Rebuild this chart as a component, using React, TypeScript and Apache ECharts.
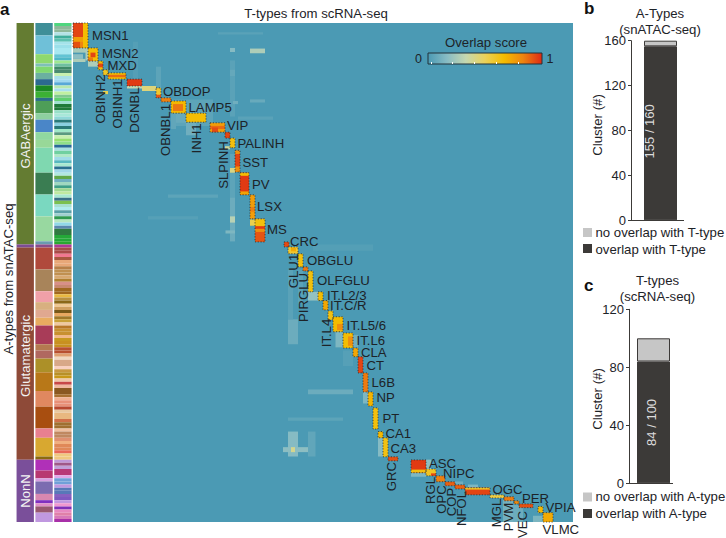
import React, { useEffect, useRef } from "react";
import * as echarts from "echarts";

const TEAL = "#4b9ab4";
const FONT = '"Liberation Sans", Arial, sans-serif';
const INK = "#1d2328";
const DARK = "#3c3a38";
const LIGHT = "#c6c6c6";

// Overlap score as [col0, col1, row0, row1, score]; later entries lie on top of earlier ones.
const faintOverlap = [
  [31.4, 32.4, 12, 30, 0.04], [16.6, 17.6, 14, 21, 0.05], [12, 13, 6, 18, 0.025], [35.4, 38.4, 8.2, 9.7, 0.27],
  [31.4, 32.4, 8, 9.3, 0.16], [31.4, 32.4, 15, 17, 0.07], [29, 38, 3, 3.7, 0.04], [32, 33, 25, 26, 0.1],
  [19.6, 28, 24.5, 33, 0.05], [22.6, 24.6, 32, 36, 0.1], [20.6, 22.6, 29, 32, 0.08], [19.6, 20.6, 29, 34, 0.06],
  [35.4, 38.4, 24.5, 25.5, 0.08], [33, 40, 30, 31, 0.04], [19, 29, 55, 56, 0.05], [31.4, 32.4, 42, 70, 0.05],
  [31.4, 32.4, 56, 70, 0.09], [31.4, 32.4, 62, 64, 0.3], [30.5, 32.4, 66.5, 67.5, 0.14], [15, 25, 62, 63, 0.03],
  [43, 45, 95, 103, 0.09], [43, 45, 131, 139, 0.16], [42, 48, 136, 137.6, 0.18], [43.6, 44.4, 136, 137.6, 0.4],
  [47, 56, 117.5, 119, 0.09], [43, 54, 126.5, 127.5, 0.05], [47, 49, 86.2, 89, 0.2], [47, 48.5, 131, 139, 0.06],
  [52.5, 54, 99, 104, 0.14], [56, 57, 100, 104, 0.1], [58, 59, 118, 122, 0.14], [61, 62, 133, 139, 0.16],
  [43, 44, 79, 95, 0.04], [45, 46, 79, 90, 0.04], [48, 60, 71, 73, 0.025], [54, 56, 105, 110, 0.03],
  [70.6, 71.6, 140, 143, 0.18], [67.6, 70.6, 144.2, 145.5, 0.14], [76, 78, 147, 148, 0.1], [79, 81, 148, 149, 0.14],
  [86, 88, 153, 160, 0.11], [88, 90, 154.5, 160, 0.09], [92, 94, 158, 160, 0.13], [0, 3, 8, 9.5, 0.25],
  [0, 2, 10, 11.5, 0.18], [0, 2.5, 11.5, 12.5, 0.27], [3, 5, 12.2, 14, 0.27], [2.5, 3, 6, 12, 0.27],
];

const blockOverlap = [
  [0, 3, 0, 8, 0.66], [0, 2, 0, 4.5, 0.95], [0, 2, 4.5, 6, 0.76], [0, 1.4, 6, 8, 0.93], [1.4, 2, 6, 8, 0.83],
  [3, 5, 8, 12.2, 0.66], [3.5, 4.5, 9.5, 11, 0.95], [3, 4, 11, 12.2, 0.85],
  [5, 6, 12.2, 15, 0.66], [5, 6, 13, 14.2, 0.95], [6, 7, 15, 16.7, 0.6], [6, 7, 21.8, 22.8, 0.52],
  [7, 10.6, 16, 18, 0.66], [7, 10.6, 16.6, 17.4, 0.88],
  [10.8, 13.8, 18, 20.2, 0.97], [10.8, 13.8, 20.2, 21, 0.33],
  [13.8, 16.6, 20.2, 21.8, 0.44], [16.6, 17.6, 20.8, 23.2, 0.58], [16.6, 17.6, 23, 24, 0.92],
  [17.6, 19.6, 24, 25.3, 0.84], [19.6, 22.6, 25, 28.9, 0.68], [20, 22, 26, 28.2, 0.86],
  [22.6, 26.6, 28.9, 31.8, 0.66], [27.4, 30.4, 32, 35, 0.76], [27.4, 30.4, 33, 34, 0.88], [27.8, 29, 33.5, 35, 0.94],
  [30.4, 31.4, 35, 36.9, 0.95], [31.4, 32.4, 36.9, 40, 0.64], [30.4, 31.4, 39.5, 40.5, 0.38],
  [32.4, 33.4, 40.8, 47.8, 0.8], [32.4, 33.4, 42, 46, 0.95], [31.4, 32.4, 46.5, 48, 0.42],
  [33.4, 35.2, 48, 55.1, 0.97], [33.4, 35.2, 48, 49, 0.66], [33.4, 35.2, 54, 55.1, 0.74],
  [35.4, 36.4, 55.1, 62.8, 0.76], [35.4, 36.4, 59, 60.5, 0.84], [35.4, 36.4, 63, 65, 0.52],
  [36.4, 38.4, 62.8, 70.2, 0.92], [36.4, 38.4, 62.8, 65.2, 0.64], [36.4, 38.4, 65.2, 66, 0.97], [36.4, 38.4, 66, 67, 0.8],
  [42.2, 43.2, 70.2, 71.8, 0.94], [43, 45, 71.8, 74, 0.58], [43.6, 44.6, 72, 73.2, 0.72],
  [45, 46, 74, 78.2, 0.64], [46, 47, 78.2, 79.5, 0.86], [47, 48, 79.5, 86.2, 0.64],
  [49, 50, 86.2, 89, 0.66], [50, 51, 89, 92, 0.73], [51, 52, 92.3, 95.2, 0.63],
  [52, 54, 94.2, 99, 0.67], [52.8, 54, 96.5, 98.5, 0.8], [54, 56, 99.4, 104.2, 0.66], [55, 56, 100.5, 103.5, 0.8],
  [56, 57, 104.2, 107, 0.73], [57, 58, 107, 112.2, 0.95], [58, 59, 112.2, 118.3, 0.85], [59, 60, 118.3, 122.8, 0.69],
  [60, 61, 123.4, 130.2, 0.64], [61, 62, 131, 133, 0.68], [62, 63, 133, 139.1, 0.63], [63, 65, 139.1, 140.4, 0.93],
  [67.6, 70.6, 140.1, 144.2, 0.97], [67.6, 70.6, 143.2, 144.2, 0.64], [70.6, 72.6, 143, 145.2, 0.6],
  [71.6, 72.6, 144.4, 145.2, 0.95], [72.6, 74.4, 145.2, 147.1, 0.84], [74.4, 76.4, 147.1, 148.4, 0.9],
  [76.4, 78.4, 148.1, 149.4, 0.9], [78.4, 83.4, 149, 151.3, 0.95], [78.4, 83.4, 149, 149.6, 0.6],
  [83.4, 86.2, 151.3, 152.3, 0.54], [86.2, 88.2, 151.9, 153.2, 0.85], [88.2, 89.2, 153.2, 154.2, 0.82],
  [89.2, 92, 154.2, 155.4, 0.93], [93, 94, 155, 157, 0.68], [94, 96, 157, 160, 0.72],
];

// Dotted frames of the T-type blocks: [col0, col1, row0, row1].
const tTypeFrames = [
  [0, 3, 0, 8], [3, 5, 8, 12.2], [5, 6, 12.2, 15], [6, 7, 15, 16.7], [7, 10.6, 16, 18], [10.8, 13.8, 18, 20.2],
  [16.6, 17.6, 20.8, 24], [17.6, 19.6, 24, 25.3], [19.6, 22.6, 25, 28.9], [22.6, 26.6, 28.9, 31.8], [27.4, 30.4, 32, 35],
  [30.4, 31.4, 35, 36.9], [31.4, 32.4, 36.9, 40], [32.4, 33.4, 40.8, 47.8], [33.4, 35.2, 48, 55.1], [35.4, 36.4, 55.1, 62.8],
  [36.4, 38.4, 62.8, 70.2], [42.2, 43.2, 70.2, 71.8], [43, 45, 71.8, 74], [45, 46, 74, 78.2], [46, 47, 78.2, 79.5],
  [47, 48, 79.5, 86.2], [49, 50, 86.2, 89], [50, 51, 89, 92], [51, 52, 92.3, 95.2], [52, 54, 94.2, 99], [54, 56, 99.4, 104.2],
  [56, 57, 104.2, 107], [57, 58, 107, 112.2], [58, 59, 112.2, 118.3], [59, 60, 118.3, 122.8], [60, 61, 123.4, 130.2],
  [61, 62, 131, 133], [62, 63, 133, 139.1], [63, 65, 139.1, 140.4], [67.6, 70.6, 140.1, 144.2], [70.6, 72.6, 143, 145.2],
  [72.6, 74.4, 145.2, 147.1], [74.4, 76.4, 147.1, 148.4], [76.4, 78.4, 148.1, 149.4], [78.4, 83.4, 149, 151.3],
  [83.4, 86.2, 151.3, 152.3], [86.2, 88.2, 151.9, 153.2], [88.2, 89.2, 153.2, 154.2], [89.2, 92, 154.2, 155.4],
  [93, 94, 155, 157], [94, 96, 157, 160],
];

const overlapColors = ["#4b9ab4", "#88bcc4", "#c5d8b0", "#ead25a", "#f4bc00", "#ee8410", "#de2a14"];

// Left-hand annotation strips: [color, row0, row1].
const classStrip = [["#647c32", 0, 71], ["#7d4c94", 71, 72], ["#8e4a38", 72, 140], ["#7a4f9a", 140, 160]];
const subclassStrip = [
  ["#3f8f98", 0, 4], ["#6fc0d8", 4, 10], ["#8fd96e", 10, 13], ["#7fc0b8", 13, 14], ["#80d870", 14, 16], ["#6bb0a0", 16, 18],
  ["#2c6a90", 18, 20], ["#1c8a24", 20, 22], ["#3cb034", 22, 24], ["#2b6e88", 24, 25], ["#4e9e58", 25, 29], ["#8ed0a0", 29, 31],
  ["#4a86c8", 31, 35], ["#90d8a0", 35, 37.5], ["#98d898", 37.5, 40], ["#7fd8b0", 40, 48], ["#3a7d52", 48, 55], ["#7ad8c0", 55, 62],
  ["#98d8a0", 62, 70], ["#6a9ab0", 70, 71], ["#8a4c8c", 71, 72], ["#b04a3c", 72, 79], ["#a8845a", 79, 86], ["#f0a0a8", 86, 89.5],
  ["#d8b080", 89.5, 92], ["#e0a890", 92, 94.5], ["#e8ac60", 94.5, 97], ["#a83c58", 97, 103], ["#b47a50", 103, 105], ["#b06860", 105, 107.6],
  ["#ac9028", 107.6, 112], ["#b87818", 112, 118], ["#e08860", 118, 123], ["#a84e10", 123, 130], ["#e88090", 130, 133], ["#d8a830", 133, 139],
  ["#8a6a10", 139, 140], ["#b030b8", 140, 143.5], ["#b83870", 143.5, 146], ["#d8a0e0", 146, 147], ["#7c6cb0", 147, 151], ["#d888b0", 151, 153],
  ["#8030c0", 153, 154], ["#e090c8", 154, 155], ["#985870", 155, 157], ["#c098e0", 157, 160],
];
const clusterStrip = (
  "4fd67f 8fb89a 8fb89a b3e2e6 3fae9c 5cc0b0 a5e3ea 9be0ea a8e8f0 a8e8f0 " +
  "62c4d4 4fb8c8 a0e890 6fc0a0 3f8a68 4a8a70 c8f0b0 a8e0e8 a0d8f0 58a8d8 " +
  "b8e8b0 a8e0f0 c0f0a0 80c890 60d070 a0e0d0 1f7a3a 1f7a3a 98e0c8 a8e8d8 " +
  "90d8d8 2a7a7a 8ad0e0 2a7a78 a0e8c8 5a9a80 c8f0b0 98e070 90e088 2a6a98 " +
  "a8e0e0 70d0a0 b0e8c8 a0dce8 58b8c0 a8e8d0 2a7090 a0d8e8 b0e8e0 60a848 " +
  "70b0c0 a0d8c0 40a088 a0d890 c0e8a0 a8e8d0 3a7088 7cc050 a8e0d0 b0ecf0 " +
  "5aa0a8 a0d0d0 2f9a50 b8e8c0 90d8e8 5a88b0 2f7a40 2f7a40 24a838 24a838 " +
  "2aa830 b03898 a84a48 a84a48 f07890 a85840 e8a878 e8a878 b88048 c09050 " +
  "c09050 d8a870 b08030 d89088 c88870 a06820 a06820 e8b840 b89040 8a6818 " +
  "f0c890 d0a060 785818 e8a860 a07828 c8a038 f0c8a0 b87828 c89030 c89030 " +
  "f0b888 c89820 c89020 c89020 b85030 b85030 e0a070 f0d8c0 d8a888 d8a888 " +
  "f8d0c0 c89840 b89028 c89818 f0c8a8 c84848 f0b8a0 8a5820 8a5820 a87030 " +
  "f0b090 e89078 e89078 b84830 e8c8a0 e8b880 e8b880 d07048 a07030 a07030 " +
  "f0c0a0 c08860 c08860 e09070 f0b080 e08858 e08858 e86858 f0c880 f0c880 " +
  "c098d8 a05888 c0a0d8 b83878 b83878 e0a8e8 70a0d8 70a0d8 c098e0 5878b8 " +
  "5878b8 8860c0 8058c0 c098e0 f098d0 8030b8 e888c0 e080a8 d878b8 a830a8"
).split(" ").map((h) => "#" + h);

// Panels b and c.
const aTypeOverlap = [155];
const aTypeNoOverlap = [5];
const aTypeTicks = [0, 40, 80, 120, 160];
const tTypeOverlap = [84];
const tTypeNoOverlap = [16];
const tTypeTicks = [0, 40, 80, 120];

const horizontalTypeLabels = [
  ["MSN1", 92, 35], ["MSN2", 102, 53.5], ["MXD", 107.5, 65], ["OBDOP", 163, 91], ["LAMP5", 188.5, 107], ["VIP", 227, 125.5],
  ["PALINH", 237.5, 143], ["SST", 242.5, 162], ["PV", 252, 184], ["LSX", 257, 206.5], ["MS", 267, 229], ["CRC", 290, 241.5],
  ["OBGLU", 307, 260], ["OLFGLU", 317, 280.5], ["IT.L2/3", 327, 295], ["IT.C/R", 330, 305.5], ["IT.L5/6", 346.5, 325],
  ["IT.L6", 356.5, 340], ["CLA", 361, 352], ["CT", 366.5, 365], ["L6B", 371.5, 382.5], ["NP", 376.5, 397.5], ["PT", 382.5, 418.5],
  ["CA1", 385.5, 433.5], ["CA3", 390.5, 448.5], ["ASC", 429, 463], ["NIPC", 443, 473.5], ["OGC", 492.5, 489], ["PER", 522, 498],
  ["VPIA", 545.5, 507.5], ["VLMC", 542.5, 529.5],
];
const verticalTypeLabels = [
  ["OBINH2", 100.5, 99], ["OBINH1", 117.5, 104], ["DGNBL", 134.5, 110], ["OBNBL1", 165, 130], ["INH1", 196.5, 138.5],
  ["SLPINH", 223, 165], ["GLU1", 293, 271], ["PIRGLU", 303, 297.5], ["IT.L4", 326, 333], ["GRC", 391.5, 476.5], ["RGL", 430, 490.5],
  ["OPC", 441, 499.5], ["COP", 451, 502], ["NFOL", 461, 508.5], ["MGL", 496, 513], ["PVM", 508, 517], ["VEC", 522, 524.5],
];

function hText(text: string, x: number, y: number, extra: any = {}) {
  return {
    type: "text", x, y, z: 100, silent: true,
    style: { text, fill: INK, font: `13.2px ${FONT}`, align: "left", verticalAlign: "middle", ...extra },
  };
}
function vText(text: string, x: number, y: number, extra: any = {}) {
  return {
    type: "text", x, y, z: 100, silent: true, rotation: Math.PI / 2,
    style: { text, fill: INK, font: `13.2px ${FONT}`, align: "center", verticalAlign: "middle", ...extra },
  };
}
function square(x: number, y: number, fill: string) {
  return { type: "rect", z: 100, silent: true, shape: { x, y, width: 9, height: 9 }, style: { fill } };
}
function baseline(x1: number, x2: number, y: number) {
  return { type: "line", z: 100, silent: true, shape: { x1, y1: y, x2, y2: y }, style: { stroke: DARK, lineWidth: 1 } };
}

function patchItem(_p: any, api: any) {
  const a = api.coord([api.value(0), api.value(2)]);
  const b = api.coord([api.value(1), api.value(3)]);
  return {
    type: "rect",
    shape: { x: a[0], y: a[1], width: b[0] - a[0], height: b[1] - a[1] },
    style: { fill: api.visual("color") },
  };
}
function frameItem(_p: any, api: any) {
  const a = api.coord([api.value(0), api.value(2)]);
  const b = api.coord([api.value(1), api.value(3)]);
  return {
    type: "rect",
    shape: { x: a[0], y: a[1], width: b[0] - a[0], height: b[1] - a[1] },
    style: { fill: "none", stroke: "#2a3034", lineWidth: 0.8, lineDash: [1.2, 1.6] },
  };
}

const stripRows = [
  ...classStrip.map((s) => ({ col: 0, color: s[0] as string, r0: s[1] as number, r1: s[2] as number })),
  ...subclassStrip.map((s) => ({ col: 1, color: s[0] as string, r0: s[1] as number, r1: s[2] as number })),
  ...clusterStrip.map((c, i) => ({ col: 2, color: c, r0: i, r1: i + 1 })),
];
function stripItem(p: any, api: any) {
  const s = stripRows[p.dataIndex];
  const a = api.coord([s.col + 0.03, s.r0]);
  const b = api.coord([s.col + 0.95, s.r1]);
  return {
    type: "rect",
    shape: { x: a[0], y: a[1], width: b[0] - a[0], height: b[1] - a[1] },
    style: { fill: s.color },
  };
}

function stackedBar(name: string, data: number[], axis: number, color: string, label?: any) {
  return {
    type: "bar", name, stack: "s" + axis, xAxisIndex: axis, yAxisIndex: axis, barWidth: 33,
    data,
    itemStyle: { color, borderColor: DARK, borderWidth: 1 },
    label,
  };
}
function barLabel(text: string, offset: number[]) {
  return {
    show: true, position: "inside", rotate: 90, formatter: text, offset,
    color: "#dcdcdc", fontFamily: FONT, fontSize: 13,
  };
}
function countYAxis(grid: number, max: number, ticks: number[]) {
  return {
    type: "value", gridIndex: grid, min: 0, max, interval: ticks[1] - ticks[0],
    axisLine: { show: true, lineStyle: { color: DARK, width: 1 } },
    axisTick: { show: true, length: 3, lineStyle: { color: DARK } },
    axisLabel: { color: INK, fontFamily: FONT, fontSize: 13, margin: 5 },
    splitLine: { show: false },
  };
}
function countXAxis(grid: number, name: string) {
  return {
    type: "category", gridIndex: grid, data: [name],
    axisLine: { show: false }, axisTick: { show: false }, axisLabel: { show: false }, splitLine: { show: false },
  };
}

export default function App() {
  const ref = useRef<HTMLDivElement>(null);
  useEffect(() => {
    const chart = echarts.init(ref.current!, null, { renderer: "svg" });
    const graphic: any[] = [
      hText("a", 0, 9, { font: `bold 17px ${FONT}`, fill: "#111" }),
      hText("b", 584, 8, { font: `bold 17px ${FONT}`, fill: "#111" }),
      hText("c", 584, 285, { font: `bold 17px ${FONT}`, fill: "#111" }),
      hText("T-types from scRNA-seq", 316, 13, { align: "center" }),
      hText("Overlap score", 445, 42),
      hText("0", 415, 59, { font: `12.5px ${FONT}` }),
      hText("1", 546.5, 59, { font: `12.5px ${FONT}` }),
      vText("A-types from snATAC-seq", 8, 279),
      vText("GABAergic", 25, 136, { fill: "#f2f2f2" }),
      vText("Glutamatergic", 25, 356, { fill: "#f2f2f2" }),
      vText("NonN", 25, 491, { fill: "#f2f2f2" }),
      {
        type: "rect", z: 100, silent: true, shape: { x: 428, y: 53, width: 114, height: 11 },
        style: {
          stroke: "#23323a", lineWidth: 1,
          fill: {
            type: "linear", x: 0, y: 0, x2: 1, y2: 0,
            colorStops: overlapColors.map((color, i) => ({ offset: i / (overlapColors.length - 1), color })),
          },
        },
      },
      ...[431, 452, 474, 496, 518].map((x) => ({
        type: "rect", z: 101, silent: true, shape: { x, y: 62, width: 1, height: 2 }, style: { fill: "#ffffff" },
      })),
      ...horizontalTypeLabels.map((l) => hText(l[0] as string, l[1] as number, l[2] as number)),
      ...verticalTypeLabels.map((l) => vText(l[0] as string, l[1] as number, l[2] as number)),
      baseline(628, 684, 220.5),
      baseline(626, 673, 483.5),
      hText("A-Types", 660, 13, { align: "center" }),
      hText("(snATAC-seq)", 660, 29, { align: "center" }),
      vText("Cluster (#)", 597, 125),
      square(583, 228, LIGHT),
      hText("no overlap with T-type", 595.5, 232),
      square(583, 244, DARK),
      hText("overlap with T-type", 595.5, 249),
      hText("T-types", 657.5, 280, { align: "center" }),
      hText("(scRNA-seq)", 657.5, 296.5, { align: "center" }),
      vText("Cluster (#)", 597, 399),
      square(583, 492.5, LIGHT),
      hText("no overlap with A-type", 595.5, 496.5),
      square(583, 509, DARK),
      hText("overlap with A-type", 595.5, 513),
    ];

    chart.setOption({
      animation: false,
      backgroundColor: "#ffffff",
      textStyle: { fontFamily: FONT },
      grid: [
        { left: 73, top: 23, width: 500, height: 499, show: true, backgroundColor: TEAL, borderWidth: 0 },
        { left: 16, top: 23, width: 56.5, height: 499 },
        { left: 631, top: 40.7, width: 59, height: 179.6 },
        { left: 629, top: 309.3, width: 49, height: 174 },
      ],
      xAxis: [
        { type: "value", gridIndex: 0, min: 0, max: 100, show: false },
        { type: "value", gridIndex: 1, min: 0, max: 3, show: false },
        countXAxis(2, "A-Types"),
        countXAxis(3, "T-types"),
      ],
      yAxis: [
        { type: "value", gridIndex: 0, min: 0, max: 160, inverse: true, show: false },
        { type: "value", gridIndex: 1, min: 0, max: 160, inverse: true, show: false },
        countYAxis(2, 160, aTypeTicks),
        countYAxis(3, 120, tTypeTicks),
      ],
      visualMap: {
        type: "continuous", show: false, seriesIndex: 0, dimension: 4, min: 0, max: 1,
        inRange: { color: overlapColors },
      },
      series: [
        {
          type: "custom", xAxisIndex: 0, yAxisIndex: 0, renderItem: patchItem,
          data: [...faintOverlap, ...blockOverlap], encode: { x: [0, 1], y: [2, 3] }, silent: true,
        },
        {
          type: "custom", xAxisIndex: 0, yAxisIndex: 0, renderItem: frameItem, z: 3,
          data: tTypeFrames, encode: { x: [0, 1], y: [2, 3] }, silent: true,
        },
        {
          type: "custom", xAxisIndex: 1, yAxisIndex: 1, renderItem: stripItem,
          data: stripRows.map((s) => [s.col, s.r0, s.r1]), silent: true,
        },
        stackedBar("overlap with T-type", aTypeOverlap, 2, DARK, barLabel("155 / 160", [2, -11])),
        stackedBar("no overlap with T-type", aTypeNoOverlap, 2, LIGHT),
        stackedBar("overlap with A-type", tTypeOverlap, 3, DARK, barLabel("84 / 100", [0, -2])),
        stackedBar("no overlap with A-type", tTypeNoOverlap, 3, LIGHT),
      ],
      graphic,
    });
    return () => chart.dispose();
  }, []);
  return <div ref={ref} style={{ position: "absolute", left: 0, top: 0, width: 726, height: 538 }} />;
}
